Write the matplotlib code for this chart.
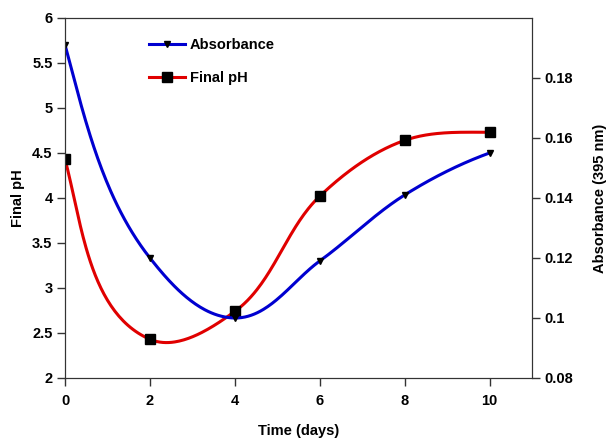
import numpy as np
import matplotlib
matplotlib.use("Agg")
import matplotlib.pyplot as plt
from matplotlib.lines import Line2D

plt.rcParams['font.family'] = ['Liberation Sans', 'DejaVu Sans']
plt.rcParams['font.weight'] = 'bold'

days = [0, 2, 4, 6, 8, 10]
final_ph = [4.43, 2.43, 2.74, 4.02, 4.64, 4.73]
absorbance = [0.191, 0.120, 0.100, 0.119, 0.141, 0.155]

ph_ticks = [2, 2.5, 3, 3.5, 4, 4.5, 5, 5.5, 6]
ph_labels = ['2', '2.5', '3', '3.5', '4', '4.5', '5', '5.5', '6']
abs_ticks = [0.08, 0.1, 0.12, 0.14, 0.16, 0.18]
abs_labels = ['0.08', '0.1', '0.12', '0.14', '0.16', '0.18']
day_ticks = [0, 2, 4, 6, 8, 10]


def koniec(chord, nast):  # nachylenie na koncu linii
    s = 2 * chord - nast
    if s * chord < 0:
        s = 0.0
    v = np.array([1.0, s])
    return v / np.linalg.norm(v)


def gladka(a, x, y, n=60):  # wygladzona linia (Bezier liczony w pikselach)
    p = a.transData.transform(np.column_stack([x, y]))
    m = len(p)
    d = [np.linalg.norm(p[i + 1] - p[i]) for i in range(m - 1)]
    t = [None] * m
    for i in range(1, m - 1):
        v = (p[i] - p[i - 1]) / d[i - 1] + (p[i + 1] - p[i]) / d[i]
        t[i] = v / np.linalg.norm(v)
    c0 = (p[1][1] - p[0][1]) / (p[1][0] - p[0][0])
    t[0] = koniec(c0, t[1][1] / t[1][0])
    c1 = (p[-1][1] - p[-2][1]) / (p[-1][0] - p[-2][0])
    t[-1] = koniec(c1, t[-2][1] / t[-2][0])
    s = np.linspace(0, 1, n)[:, None]
    out = []
    for i in range(m - 1):
        k1 = p[i] + t[i] * d[i] / 3
        k2 = p[i + 1] - t[i + 1] * d[i] / 3
        out.append((1 - s) ** 3 * p[i] + 3 * (1 - s) ** 2 * s * k1
                   + 3 * (1 - s) * s ** 2 * k2 + s ** 3 * p[i + 1])
    out = a.transData.inverted().transform(np.vstack(out))
    return out[:, 0], out[:, 1]


fig = plt.figure(figsize=(6.08, 4.38), dpi=100)
ax = fig.add_axes([0.107, 0.137, 0.768, 0.822])
ax2 = ax.twinx()

ax.set_xlim(0, 11)
ax.set_ylim(2, 6)
ax2.set_ylim(0.08, 0.2)
ax.set_xticks(day_ticks)
ax.set_yticks(ph_ticks)
ax.set_yticklabels(ph_labels)
ax2.set_yticks(abs_ticks)
ax2.set_yticklabels(abs_labels)

xs, ys = gladka(ax, days, final_ph)
ax.plot(xs, ys, color='#e00000', lw=2.2)
ax.plot(days, final_ph, 's', color='black', ms=6.8)

xs2, ys2 = gladka(ax2, days, absorbance)
ax2.plot(xs2, ys2, color='#0000d0', lw=2.2)
ax2.plot(days, absorbance, 'v', color='black', ms=5)

for a in (ax, ax2):
    a.tick_params(labelsize=10.5, length=5.5, width=1, color='#333333')
    for sp in a.spines.values():
        sp.set_color('#333333')
ax.tick_params(axis='x', pad=6)

ax.set_xlabel('Time (days)', fontsize=10.5, fontweight='bold', va='center')
ax.xaxis.set_label_coords(0.5, -0.147)
ax.set_ylabel('Final pH', fontsize=10.5, fontweight='bold', va='center')
ax.yaxis.set_label_coords(-0.10, 0.5)
ax2.set_ylabel('Absorbance (395 nm)', fontsize=10.5, fontweight='bold', va='center')
ax2.yaxis.set_label_coords(1.146, 0.5)

h1 = Line2D([], [], color='#0000d0', lw=2.2, marker='v', mfc='black', mec='black', ms=5)
h2 = Line2D([], [], color='#e00000', lw=2.2, marker='s', mfc='black', mec='black', ms=7)
ax2.legend([h1, h2], ['Absorbance', 'Final pH'], loc='upper left',
           bbox_to_anchor=(0.151, 0.98), frameon=False, fontsize=10.5,
           handlelength=2.5, labelspacing=1.3, handletextpad=0.3)

fig.savefig('out.png', dpi=100)
